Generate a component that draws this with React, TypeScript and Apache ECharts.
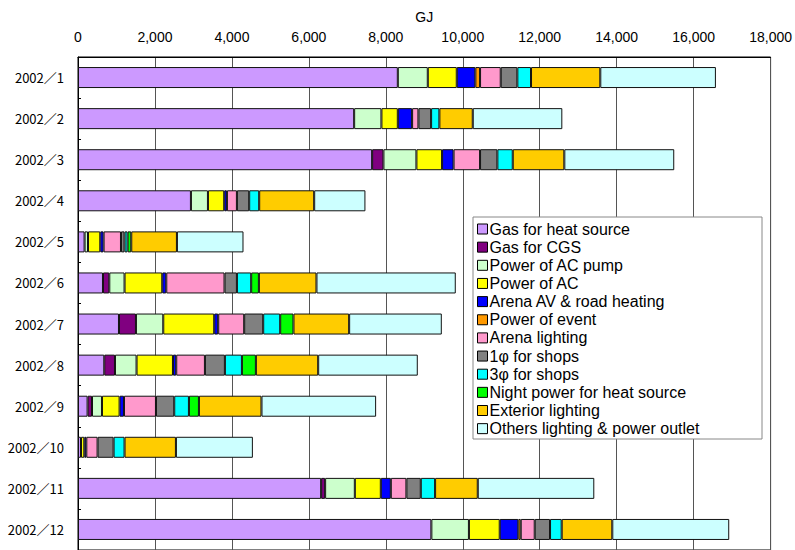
import React, { useEffect, useRef } from "react";
import * as echarts from "echarts";

const months = ["2002／1", "2002／2", "2002／3", "2002／4", "2002／5", "2002／6", "2002／7", "2002／8", "2002／9", "2002／10", "2002／11", "2002／12"];
const xTicks = [0, 2000, 4000, 6000, 8000, 10000, 12000, 14000, 16000, 18000];

const gasHeat = [8312, 7177, 7644, 2935, 171, 649, 1065, 683, 249, 78, 6319, 9184];
const gasCGS = [0, 0, 294, 0, 0, 164, 441, 278, 115, 0, 104, 0];
const acPump = [779, 709, 857, 442, 89, 397, 710, 561, 259, 0, 772, 976];
const acPower = [753, 426, 667, 423, 319, 980, 1324, 946, 458, 86, 675, 801];
const arenaAV = [483, 371, 299, 70, 86, 104, 104, 85, 114, 52, 260, 483];
const eventPower = [122, 0, 0, 0, 0, 0, 0, 0, 0, 0, 0, 62];
const arenaLight = [538, 164, 688, 260, 452, 1514, 675, 746, 831, 293, 405, 364];
const shops1 = [431, 330, 450, 319, 93, 322, 494, 519, 475, 416, 374, 398];
const shops3 = [356, 215, 400, 260, 78, 371, 442, 442, 382, 285, 372, 303];
const nightPower = [0, 0, 0, 0, 96, 200, 345, 363, 260, 0, 0, 0];
const exterior = [1800, 868, 1340, 1429, 1187, 1497, 1447, 1619, 1626, 1335, 1109, 1315];
const others = [3005, 2327, 2857, 1332, 1730, 3620, 2408, 2589, 2979, 2000, 3028, 3039];

const seriesDefs = [
  { name: "Gas for heat source", data: gasHeat, color: "#CC99FF" },
  { name: "Gas for CGS", data: gasCGS, color: "#800080" },
  { name: "Power of AC pump", data: acPump, color: "#CCFFCC" },
  { name: "Power of AC", data: acPower, color: "#FFFF00" },
  { name: "Arena AV & road heating", data: arenaAV, color: "#0000FF" },
  { name: "Power of event", data: eventPower, color: "#FF9900" },
  { name: "Arena lighting", data: arenaLight, color: "#FF99CC" },
  { name: "1φ for shops", data: shops1, color: "#808080" },
  { name: "3φ for shops", data: shops3, color: "#00FFFF" },
  { name: "Night power for heat source", data: nightPower, color: "#00FF00" },
  { name: "Exterior lighting", data: exterior, color: "#FFCC00" },
  { name: "Others lighting & power outlet", data: others, color: "#CCFFFF" },
];

export default function App() {
  const ref = useRef<HTMLDivElement>(null);
  useEffect(() => {
    if (!ref.current) return;
    const chart = echarts.init(ref.current, null, { renderer: "svg" });
    chart.setOption({
      animation: false,
      backgroundColor: "#fff",
      grid: {
        left: 78,
        top: 57,
        width: 693,
        height: 499,
        show: true,
        borderColor: "#000",
        borderWidth: 1,
        containLabel: false,
      },
      xAxis: {
        type: "value",
        position: "top",
        min: xTicks[0],
        max: xTicks[xTicks.length - 1],
        interval: xTicks[1] - xTicks[0],
        name: "GJ",
        nameLocation: "middle",
        nameGap: 33,
        nameTextStyle: { fontSize: 14, color: "#000", fontFamily: "Liberation Sans, Arial, sans-serif" },
        axisLine: { show: true, lineStyle: { color: "#000", width: 1 } },
        axisTick: { show: false },
        axisLabel: {
          margin: 13,
          fontSize: 14,
          color: "#000",
          fontFamily: "Liberation Sans, Arial, sans-serif",
          formatter: (v: number) => v.toLocaleString("en-US"),
        },
        splitLine: { show: true, lineStyle: { color: "#555", width: 1 } },
      },
      yAxis: {
        type: "category",
        inverse: true,
        data: months,
        axisLine: { show: true, lineStyle: { color: "#000", width: 1 } },
        axisTick: { show: true, inside: true, length: 3, lineStyle: { color: "#000" } },
        axisLabel: {
          margin: 14,
          fontSize: 13,
          color: "#000",
          fontFamily: "Noto Sans CJK JP, Liberation Sans, sans-serif",
        },
      },
      legend: {
        orient: "vertical",
        left: 477,
        top: 220,
        padding: 0,
        itemGap: 0.15,
        itemWidth: 10,
        itemHeight: 10,
        icon: "rect",
        itemStyle: { borderColor: "#000", borderWidth: 1 },
        textStyle: {
          fontSize: 16,
          lineHeight: 18,
          color: "#000",
          fontFamily: "Liberation Sans, Arial, sans-serif",
          padding: [0, 0, 0, -3],
        },
        data: seriesDefs.map((s) => s.name),
        z: 10,
      },
      graphic: [
        {
          type: "rect",
          z: 5,
          shape: { x: 473, y: 217, width: 289, height: 222 },
          style: { fill: "#fff", stroke: "#888", lineWidth: 1 },
        },
      ],
      series: seriesDefs.map((s) => ({
        name: s.name,
        type: "bar",
        stack: "total",
        barWidth: 21,
        data: s.data.map((v) => (v === 0 ? "-" : v)),
        itemStyle: { color: s.color, borderColor: "#111", borderWidth: 1 },
        emphasis: { disabled: true },
      })),
    });
    return () => chart.dispose();
  }, []);
  return <div ref={ref} style={{ position: "absolute", left: 0, top: 0, width: 795, height: 550 }} />;
}
